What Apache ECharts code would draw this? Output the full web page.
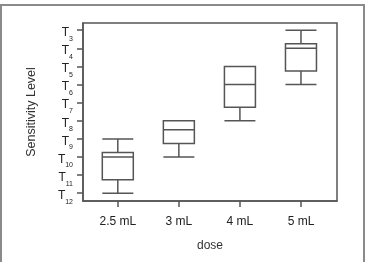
<!DOCTYPE html>
<html>
<head>
<meta charset="utf-8">
<title>Sensitivity Level by dose</title>
<script src="https://cdn.jsdelivr.net/npm/echarts@6/dist/echarts.min.js"></script>
<style>
  html, body { margin: 0; padding: 0; background: #fff; }
  #chart { width: 365px; height: 262px; }
</style>
</head>
<body>
<div id="chart"></div>
<script>
// doses on the x axis
var doses = ['2.5 mL', '3 mL', '4 mL', '5 mL'];
// sensitivity levels T3..T12 (numbers are the subscripts)
var levels = [3, 4, 5, 6, 7, 8, 9, 10, 11, 12];
// box stats per dose: [low whisker, Q1, median, Q3, high whisker] in level numbers
var boxLow = [9, 8, 5, 3];
var boxQ1 = [9.75, 8, 5, 3.75];
var boxMed = [10, 8.5, 6, 4];
var boxQ3 = [11.25, 9.25, 7.25, 5.25];
var boxHigh = [12, 10, 8, 6];

var boxData = doses.map(function (d, i) {
    return [i + 1, boxLow[i], boxQ1[i], boxMed[i], boxQ3[i], boxHigh[i]];
});

var yMin = 2.6, yMax = 12.43;

var myChart = echarts.init(document.getElementById('chart'));
option = {
    backgroundColor: '#fff',
    animation: false,
    graphic: [{
        type: 'rect',
        shape: { x: 1, y: 5, width: 363, height: 270 },
        style: { fill: 'none', stroke: '#8a8a8a', lineWidth: 2 }
    }],
    grid: {
        left: 83,
        right: 28,
        top: 23,
        bottom: 61,
        show: true,
        borderColor: '#555',
        borderWidth: 1.5
    },
    xAxis: {
        type: 'value',
        min: 0.43,
        max: 4.59,
        name: 'dose',
        nameLocation: 'middle',
        nameGap: 39,
        nameTextStyle: { fontFamily: 'Liberation Sans', fontSize: 12, color: '#333' },
        splitLine: { show: false },
        axisLine: { show: true, lineStyle: { color: '#555', width: 1.5 } },
        axisTick: {
            show: true, length: 6, customValues: [1, 2, 3, 4],
            lineStyle: { color: '#555', width: 1.5 }
        },
        axisLabel: {
            customValues: [1, 2, 3, 4],
            margin: 15,
            fontFamily: 'Liberation Sans',
            fontSize: 12,
            color: '#222',
            formatter: function (v) { return doses[Math.round(v) - 1]; }
        }
    },
    yAxis: [{
        // main axis: "T" letters (subscript kept as blank space)
        type: 'value',
        inverse: true,
        min: yMin,
        max: yMax,
        name: 'Sensitivity Level',
        nameLocation: 'middle',
        nameGap: 45,
        nameTextStyle: { fontFamily: 'Liberation Sans', fontSize: 12.5, color: '#333' },
        splitLine: { show: false },
        axisLine: { show: true, lineStyle: { color: '#555', width: 1.5 } },
        axisTick: {
            show: true, length: 6, customValues: levels,
            lineStyle: { color: '#555', width: 1.5 }
        },
        axisLabel: {
            customValues: levels,
            margin: 10,
            verticalAlign: 'top',
            lineHeight: 5,
            formatter: function (v) { return '{t|T}{h|' + v + '}'; },
            rich: {
                t: { fontSize: 12, fontFamily: 'Liberation Sans', color: '#222', lineHeight: 5 },
                h: { fontSize: 7, fontFamily: 'Liberation Sans', color: 'rgba(0,0,0,0)', lineHeight: 5 }
            }
        }
    }, {
        // overlay axis: subscript numbers
        type: 'value',
        position: 'left',
        inverse: true,
        min: yMin,
        max: yMax,
        splitLine: { show: false },
        axisLine: { show: false },
        axisTick: { show: false },
        axisLabel: {
            customValues: levels,
            margin: 10,
            verticalAlign: 'top',
            lineHeight: 17,
            fontSize: 7,
            fontFamily: 'Liberation Sans',
            color: '#222'
        }
    }],
    series: [{
        type: 'boxplot',
        layout: 'horizontal',
        boxWidth: [31, 31],
        data: boxData,
        itemStyle: { color: '#fff', borderColor: '#555', borderWidth: 1.5 }
    }]
};
myChart.setOption(option);
</script>
</body>
</html>
